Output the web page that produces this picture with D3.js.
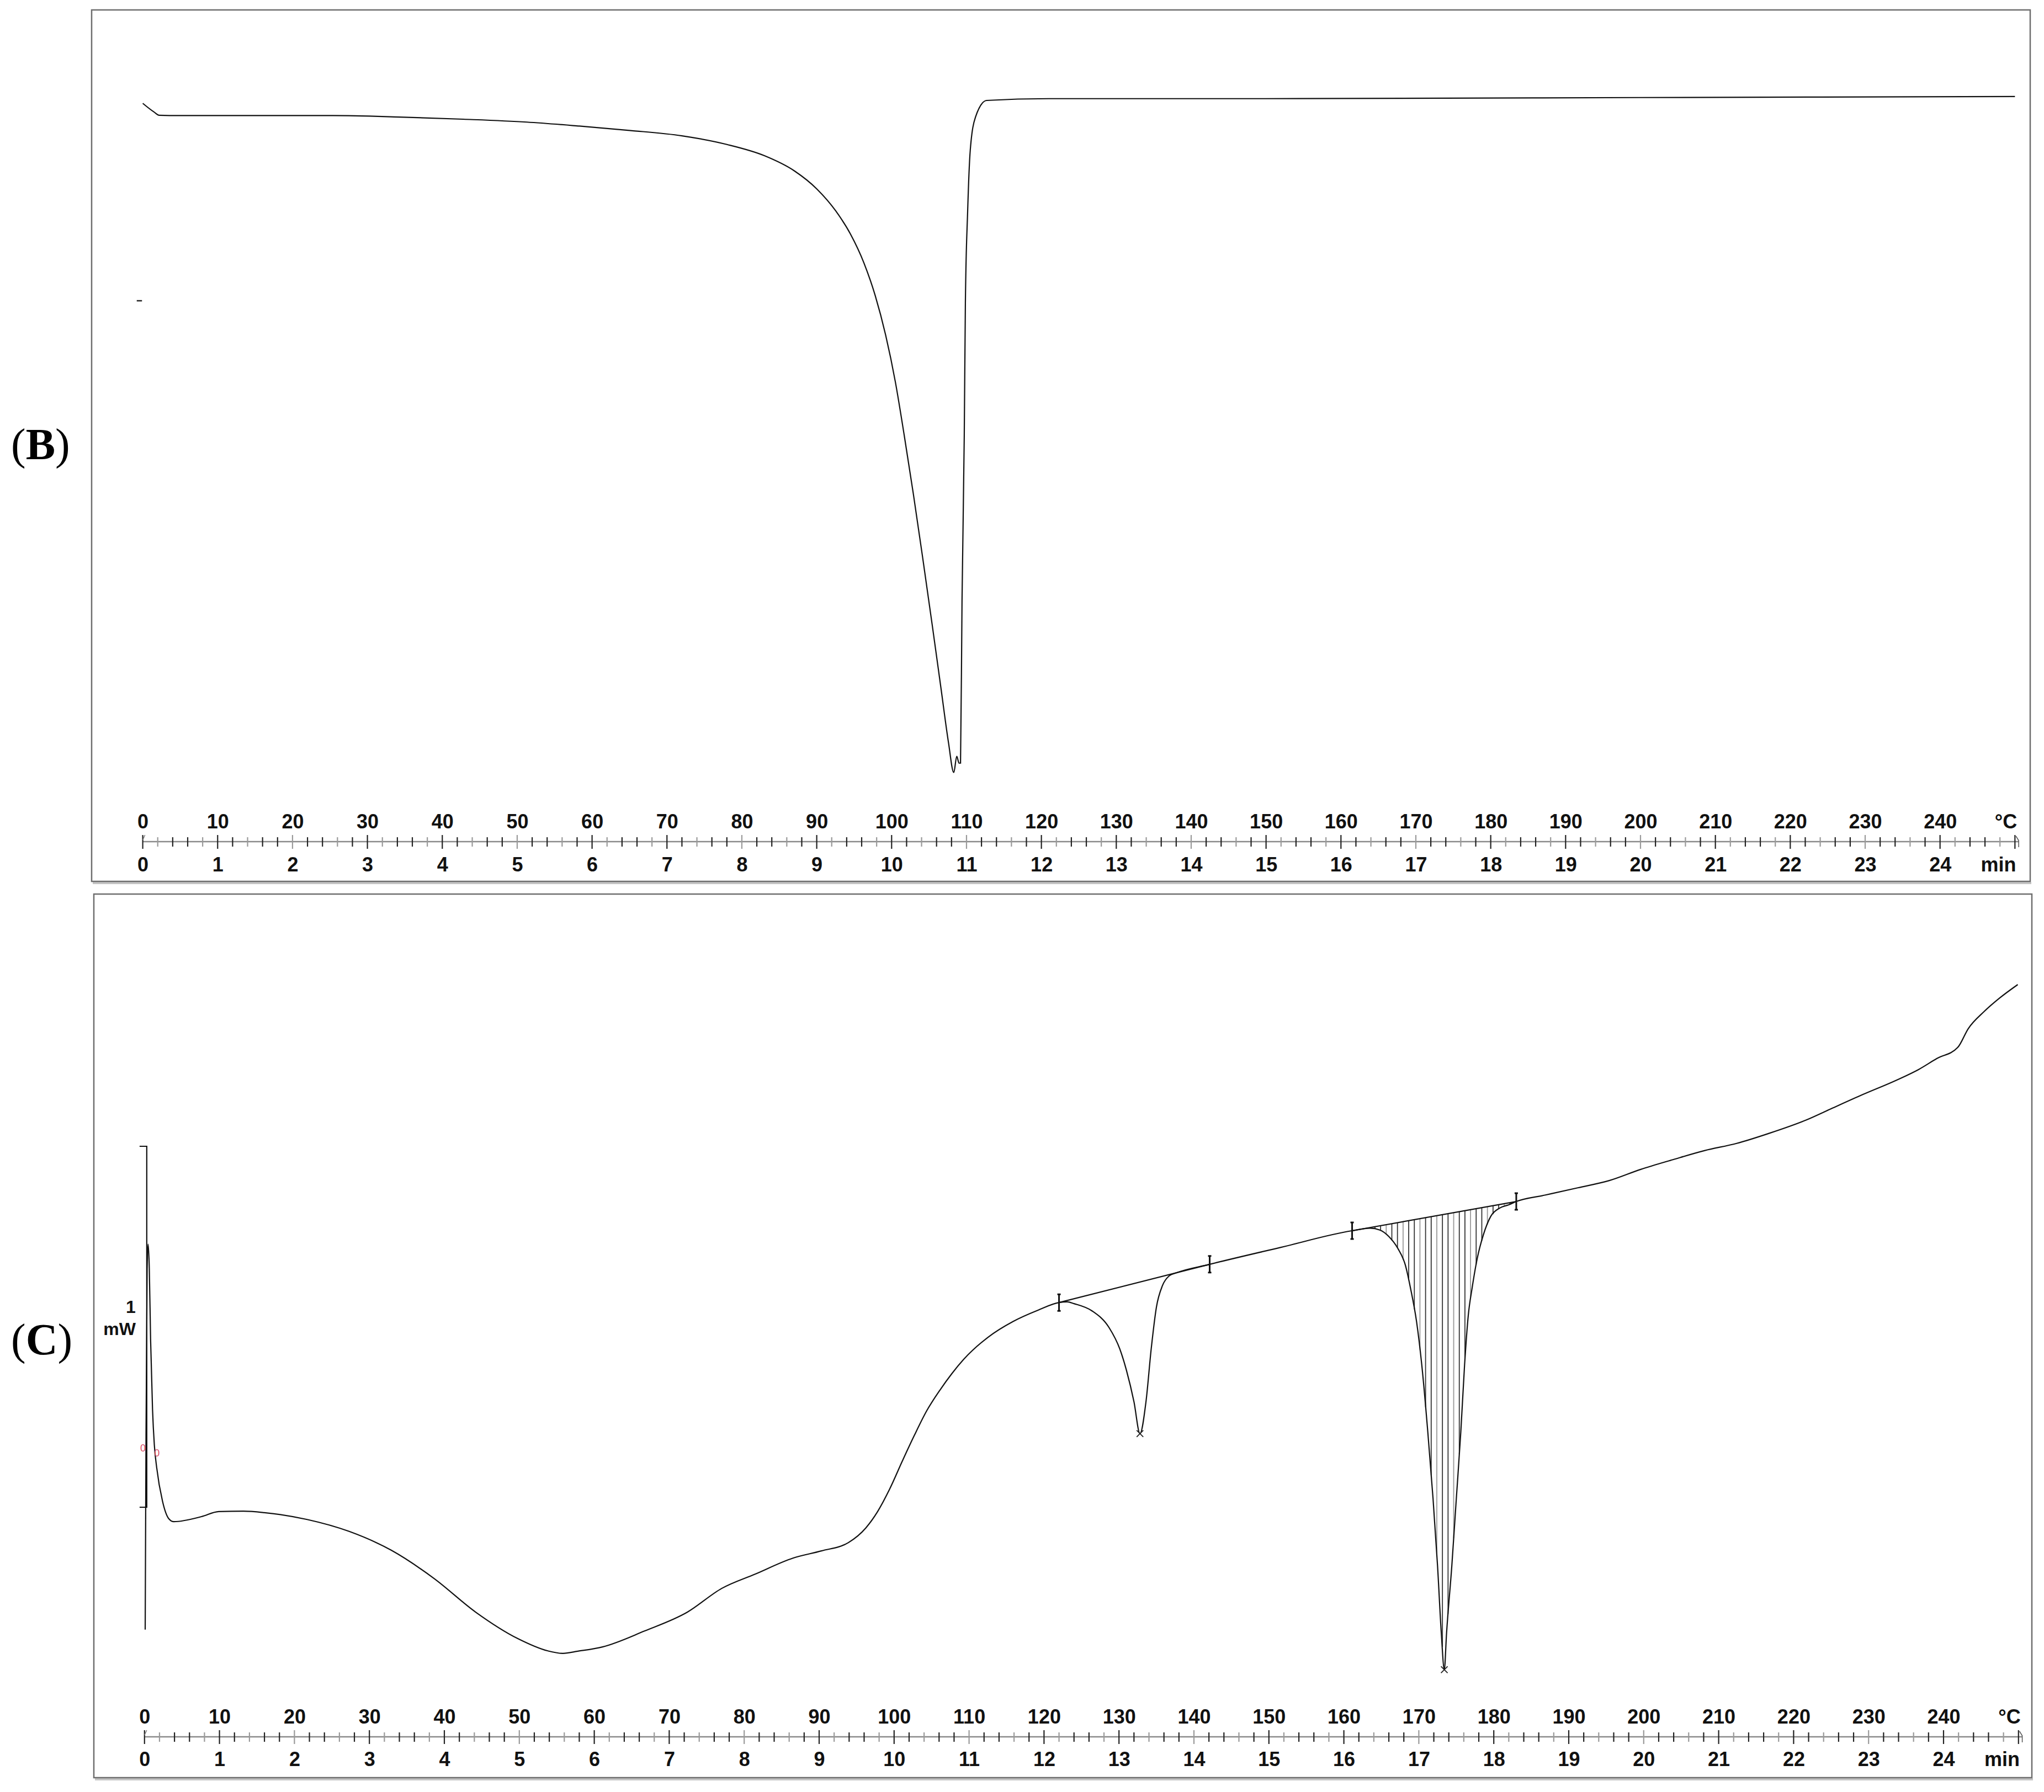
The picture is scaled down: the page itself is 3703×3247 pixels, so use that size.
<!DOCTYPE html>
<html><head><meta charset="utf-8">
<script src="https://cdn.jsdelivr.net/npm/d3@7"></script>
<style>html,body{margin:0;padding:0;background:#fff} svg{display:block}</style>
</head><body>
<script>
// ---------------- DATA ----------------
const tempTickLabels = d3.range(0, 250, 10);          // °C labels 0..240
const minTickLabels  = d3.range(0, 25, 1);            // min labels 0..24
const minorTickStep  = 2;                              // °C between small ticks

// Panel B: heat flow (mW, relative) vs temperature (°C)
const curveB_T  = [0.0, 1.5, 2.2, 5, 25.4, 34.3, 42.8, 51.3, 58.3, 65, 72, 78, 83, 87, 90, 92.5, 94.5, 96.3, 97.8, 99.2, 100.5, 101.7, 102.9, 104.1, 105.4, 106.6, 107.6, 108.3, 108.7, 109.0, 109.2, 109.4, 109.7, 109.85, 110.15, 110.5, 111.2, 112.7, 121, 150, 200, 250];
const curveB_mW = [-0.008, -0.032, -0.041, -0.042, -0.042, -0.046, -0.052, -0.060, -0.071, -0.083, -0.098, -0.122, -0.153, -0.195, -0.245, -0.305, -0.370, -0.450, -0.540, -0.650, -0.780, -0.930, -1.090, -1.260, -1.450, -1.630, -1.780, -1.862, -1.817, -1.836, -1.836, -1.388, -0.928, -0.560, -0.309, -0.138, -0.046, 0.000, 0.005, 0.005, 0.008, 0.011];

// Panel C
const curveC_T  = [0.09, 0.2, 0.35, 0.48, 0.64, 0.81, 1.07, 1.31, 1.63, 2.4, 3.25, 3.9, 7.6, 9.9, 13.2, 16.0, 21.7, 27.3, 32.9, 38.6, 44.2, 49.8, 53.8, 55.8, 57.8, 61.1, 66.7, 72.4, 77.0, 81.5, 86.5, 90.3, 93.9, 96.2, 97.8, 99.4, 101.1, 102.7, 104.4, 106.1, 107.7, 109.3, 112.6, 115.9, 119.2, 122.0, 123.1, 124.0, 126.4, 128.7, 130.1, 131.0, 132.0, 132.8, 133.6, 134.3, 135.0, 135.8, 136.7, 137.6, 142.1, 151.6, 161.1, 163.5, 164.8, 166.0, 167.2, 168.2, 168.9, 169.7, 170.4, 171.2, 171.9, 172.5, 173.0, 173.4, 173.7, 174.4, 175.0, 175.6, 176.1, 176.6, 177.1, 177.8, 178.6, 179.6, 180.8, 182.0, 183.0, 186.9, 191.2, 195.4, 199.6, 203.9, 208.1, 212.4, 216.6, 221.7, 225.0, 229.3, 233.6, 236.7, 239.1, 241.9, 243.3, 245.4, 247.5, 249.9];
const curveC_mW = [-0.339, 0.200, 0.659, 0.729, 0.661, 0.466, 0.271, 0.173, 0.109, 0.017, -0.032, -0.040, -0.026, -0.012, -0.011, -0.015, -0.034, -0.067, -0.119, -0.197, -0.291, -0.364, -0.398, -0.405, -0.399, -0.387, -0.343, -0.291, -0.225, -0.185, -0.141, -0.121, -0.098, -0.058, -0.012, 0.050, 0.128, 0.199, 0.269, 0.324, 0.370, 0.410, 0.472, 0.515, 0.546, 0.567, 0.569, 0.564, 0.544, 0.497, 0.439, 0.379, 0.292, 0.204, 0.292, 0.439, 0.555, 0.614, 0.641, 0.649, 0.673, 0.720, 0.766, 0.773, 0.768, 0.750, 0.717, 0.671, 0.606, 0.514, 0.393, 0.208, 0.023, -0.163, -0.349, -0.450, -0.349, -0.163, 0.023, 0.208, 0.393, 0.532, 0.606, 0.690, 0.754, 0.806, 0.829, 0.838, 0.847, 0.865, 0.885, 0.905, 0.936, 0.963, 0.988, 1.008, 1.035, 1.073, 1.104, 1.144, 1.182, 1.213, 1.243, 1.274, 1.326, 1.373, 1.411, 1.448];

// integration limits (baseline brackets) and peak minima in panel C
const bracketsC_T  = [122.0, 142.1, 161.1, 183.0];
const bracketsC_mW = [0.567, 0.673, 0.766, 0.847];
const peaksC_T  = [132.8, 173.4];
const peaksC_mW = [0.204, -0.450];
const scaleBarC_mW = [0, 1];
const scaleBarLabel = ["1", "mW"];
const panelLabels = ["B", "C"];

// ---------------- LAYOUT ----------------
const W = 3703, H = 3247;
const FONT = "'Liberation Sans Narrow', 'Arial Narrow', 'Liberation Sans', Arial, sans-serif";
const svg = d3.select("body").append("svg").attr("width", W).attr("height", H)
  .style("font-family", "'Liberation Sans', Arial, sans-serif");

const panels = [
  { key: panelLabels[0], frame: {x0: 166, y0: 18, x1: 3678, y1: 1597}, x0px: 258.6, pxPerDeg: 13.567, yZero: 182, axisY: 1525, labelY: 1501, minY: 1579, labelCY: 832 },
  { key: panelLabels[1], frame: {x0: 170, y0: 1620, x1: 3681, y1: 3221}, x0px: 261.8, pxPerDeg: 13.58, yZero: 2731, axisY: 3147, labelY: 3123, minY: 3200, labelCY: 2454 }
];
const pxPerMW = 654;

panels.forEach(p => {
  p.x = d3.scaleLinear().domain([0, 250]).range([p.x0px, p.x0px + p.pxPerDeg * 250]);
  p.xm = d3.scaleLinear().domain([0, 25]).range([p.x(0), p.x(250)]);
  p.y = d3.scaleLinear().domain([0, 1]).range([p.yZero, p.yZero - pxPerMW]);
  const g = svg.append("g");
  const f = p.frame;
  // frame + shadow
  g.append("line").attr("x1", f.x0 + 2).attr("x2", f.x1 + 2).attr("y1", f.y1 + 3).attr("y2", f.y1 + 3)
    .attr("stroke", "#c4c4c4").attr("stroke-width", 4);
  g.append("rect").attr("x", f.x0).attr("y", f.y0).attr("width", f.x1 - f.x0).attr("height", f.y1 - f.y0)
    .attr("fill", "none").attr("stroke", "#6e6e6e").attr("stroke-width", 2.5);

  // panel label
  const lab = svg.append("text").attr("x", 20).attr("y", p.labelCY)
    .attr("font-family", "'Liberation Serif', 'Times New Roman', serif").attr("font-size", 80).attr("fill", "#000");
  lab.append("tspan").text("(");
  lab.append("tspan").attr("font-weight", "bold").text(p.key);
  lab.append("tspan").text(")");

  // axis: gray line with ticks
  const ax = g.append("g");
  ax.append("line").attr("x1", p.x(0)).attr("x2", p.x(250.5)).attr("y1", p.axisY).attr("y2", p.axisY)
    .attr("stroke", "#8a8a8a").attr("stroke-width", 2.5);
  const minorTicks = d3.range(0, 251, minorTickStep);
  ax.selectAll("line.tk").data(minorTicks).join("line").attr("class", "tk")
    .attr("x1", d => p.x(d)).attr("x2", d => p.x(d))
    .attr("y1", d => p.axisY - (d % 10 === 0 ? 12 : 8))
    .attr("y2", d => p.axisY + (d % 10 === 0 ? 13 : 9))
    .attr("stroke", (d, i) => i % 3 === 1 ? "#9a9a9a" : "#222").attr("stroke-width", 2.2);
  // start tick hook and end arrow
  ax.append("path").attr("d", `M${p.x(0)},${p.axisY - 3} L${p.x(0) + 4},${p.axisY - 12}`)
    .attr("stroke", "#777").attr("stroke-width", 1.5).attr("fill", "none");
  ax.append("path").attr("d", `M${p.x(250.5) - 5},${p.axisY - 10} L${p.x(250.5)},${p.axisY - 2} L${p.x(250.5)},${p.axisY + 10}`)
    .attr("stroke", "#555").attr("stroke-width", 1.5).attr("fill", "none");

  // temperature labels (d3 axis, top)
  const axTop = d3.axisTop(p.x).tickValues(tempTickLabels).tickSize(0).tickPadding(0).tickFormat(d3.format("d"));
  const gt = g.append("g").attr("transform", `translate(0,${p.labelY})`).call(axTop);
  gt.select(".domain").remove();
  gt.selectAll("text").attr("font-size", 36).attr("font-weight", "bold").attr("fill", "#111")
    .attr("font-family", FONT).attr("dy", 0);
  g.append("text").attr("x", p.x(248.8)).attr("y", p.labelY).attr("text-anchor", "middle")
    .attr("font-family", FONT).attr("font-size", 36).attr("font-weight", "bold").attr("fill", "#111").text("°C");

  // minute labels (d3 axis, bottom)
  const axBot = d3.axisBottom(p.xm).tickValues(minTickLabels).tickSize(0).tickPadding(0).tickFormat(d3.format("d"));
  const gb = g.append("g").attr("transform", `translate(0,${p.minY})`).call(axBot);
  gb.select(".domain").remove();
  gb.selectAll("text").attr("font-size", 36).attr("font-weight", "bold").attr("fill", "#111")
    .attr("font-family", FONT).attr("dy", 0).attr("y", 0);
  g.append("text").attr("x", p.x(247.8)).attr("y", p.minY).attr("text-anchor", "middle")
    .attr("font-family", FONT).attr("font-size", 36).attr("font-weight", "bold").attr("fill", "#111").text("min");
});

// ---------------- PANEL B curve ----------------
const pB = panels[0];
const dataB = curveB_T.map((t, i) => [t, curveB_mW[i]]);
svg.append("path").datum(dataB)
  .attr("d", d3.line().x(d => pB.x(d[0])).y(d => pB.y(d[1])).curve(d3.curveMonotoneX))
  .attr("fill", "none").attr("stroke", "#111").attr("stroke-width", 2.2);
// small dash mark on the left
svg.append("line").attr("x1", pB.x(-0.8)).attr("x2", pB.x(-0.1)).attr("y1", pB.y(-0.555)).attr("y2", pB.y(-0.555))
  .attr("stroke", "#222").attr("stroke-width", 2.5);

// ---------------- PANEL C ----------------
const pC = panels[1];
const dataC = curveC_T.map((t, i) => [t, curveC_mW[i]]);
const lineC = d3.line().x(d => pC.x(d[0])).y(d => pC.y(d[1])).curve(d3.curveMonotoneX);

// helper: linear interpolation of the measured curve
const bis = d3.bisector(d => d[0]).left;
function curveAt(t) {
  const i = Math.max(1, Math.min(dataC.length - 1, bis(dataC, t)));
  const a = dataC[i - 1], b = dataC[i];
  return a[1] + (b[1] - a[1]) * (t - a[0]) / (b[0] - a[0]);
}
// hatched integration area (peak 2)
const bl = d3.scaleLinear().domain([bracketsC_T[2], bracketsC_T[3]]).range([bracketsC_mW[2], bracketsC_mW[3]]);
const hatchT = d3.range(bracketsC_T[2] + 0.8, bracketsC_T[3] - 0.3, 0.75);
svg.append("g").selectAll("line").data(hatchT).join("line")
  .attr("x1", d => pC.x(d)).attr("x2", d => pC.x(d))
  .attr("y1", d => pC.y(bl(d))).attr("y2", d => pC.y(curveAt(d)))
  .attr("stroke", (d, i) => i % 3 === 2 ? "#999" : "#333").attr("stroke-width", 1.8);

// baselines between brackets
[[0, 1], [2, 3]].forEach(([a, b]) => {
  svg.append("line").attr("x1", pC.x(bracketsC_T[a])).attr("y1", pC.y(bracketsC_mW[a]))
    .attr("x2", pC.x(bracketsC_T[b])).attr("y2", pC.y(bracketsC_mW[b]))
    .attr("stroke", "#111").attr("stroke-width", 2.2);
});

// the curve
svg.append("path").datum(dataC).attr("d", lineC)
  .attr("fill", "none").attr("stroke", "#111").attr("stroke-width", 2.2);

// brackets
svg.append("g").selectAll("path").data(bracketsC_T).join("path")
  .attr("d", (t, i) => {
    const x = pC.x(t), y = pC.y(bracketsC_mW[i]);
    return `M${x - 3},${y - 15}H${x + 3}M${x},${y - 15}V${y + 15}M${x - 3},${y + 15}H${x + 3}`;
  })
  .attr("stroke", "#111").attr("stroke-width", 3).attr("fill", "none");

// peak markers (x)
svg.append("g").selectAll("path").data(peaksC_T).join("path")
  .attr("d", (t, i) => {
    const x = pC.x(t), y = pC.y(peaksC_mW[i]);
    return `M${x - 6},${y - 6}L${x + 6},${y + 6}M${x - 6},${y + 6}L${x + 6},${y - 6}`;
  })
  .attr("stroke", "#222").attr("stroke-width", 1.8);

// 1 mW scale bar
const sbx = pC.x(0.3);
svg.append("path")
  .attr("d", `M${sbx - 13},${pC.y(scaleBarC_mW[1])}H${sbx}V${pC.y(scaleBarC_mW[0])}H${sbx - 13}`)
  .attr("fill", "none").attr("stroke", "#111").attr("stroke-width", 2.2);
const mid = pC.y((scaleBarC_mW[0] + scaleBarC_mW[1]) / 2);
svg.append("text").attr("x", sbx - 20).attr("y", mid - 25).attr("text-anchor", "end")
  .attr("font-size", 32).attr("font-weight", "bold").attr("fill", "#111").text(scaleBarLabel[0]);
svg.append("text").attr("x", sbx - 20).attr("y", mid + 15).attr("text-anchor", "end")
  .attr("font-size", 32).attr("font-weight", "bold").attr("fill", "#111").text(scaleBarLabel[1]);

// red start markers
[[-0.2, 0.155], [1.65, 0.14]].forEach(([t, v]) => {
  svg.append("text").attr("x", pC.x(t)).attr("y", pC.y(v)).attr("text-anchor", "middle")
    .attr("font-size", 18).attr("fill", "#d9485f").text("0");
});
</script>
</body></html>
